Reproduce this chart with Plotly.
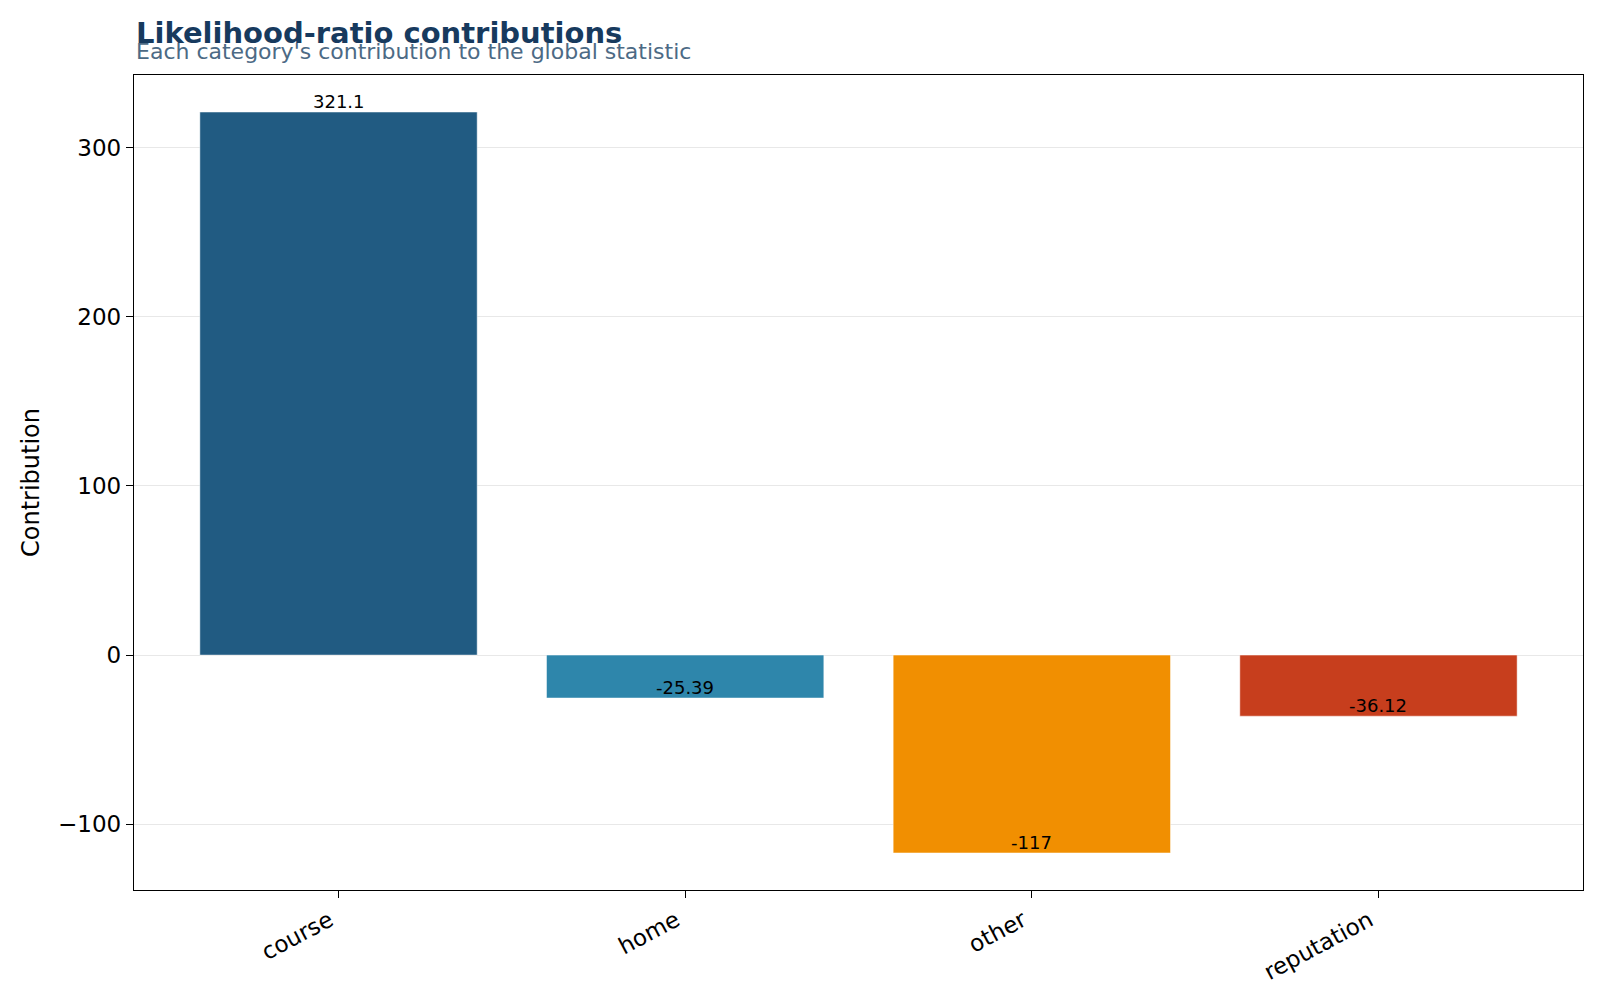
import plotly.graph_objects as go

categories = ["course", "home", "other", "reputation"]
contributions = [321.1, -25.39, -117.0, -36.12]
value_labels = ["321.1", "-25.39", "-117", "-36.12"]
bar_colors = ["#215B82", "#2E86AB", "#F18F01", "#C73E1D"]

title_text = "Likelihood-ratio contributions"
subtitle_text = "Each category's contribution to the global statistic"
y_title = "Contribution"

font_family = "DejaVu Sans"

fig = go.Figure()
fig.add_trace(go.Bar(
    x=categories,
    y=contributions,
    width=0.8,
    marker=dict(color=bar_colors, line=dict(color="rgba(255,255,255,0.6)", width=0.8)),
    hoverinfo="x+y",
))

for cat, val, lab in zip(categories, contributions, value_labels):
    fig.add_annotation(
        x=cat, y=val, text=lab, showarrow=False,
        xanchor="center", yanchor="bottom", yshift=-2,
        font=dict(family=font_family, size=18, color="#000000"),
    )

fig.add_annotation(
    xref="paper", yref="paper", x=0, y=1, xanchor="left", yanchor="bottom",
    yshift=23, text="<b>" + title_text + "</b>", showarrow=False,
    font=dict(family=font_family, size=29, color="#173A5E"),
)
fig.add_annotation(
    xref="paper", yref="paper", x=0, y=1, xanchor="left", yanchor="bottom",
    yshift=9, text=subtitle_text, showarrow=False,
    font=dict(family=font_family, size=22, color="#4C6A85"),
)

fig.update_layout(
    width=1600, height=1000,
    margin=dict(l=134, r=17, t=75, b=110),
    paper_bgcolor="white", plot_bgcolor="white",
    showlegend=False,
    font=dict(family=font_family, size=22, color="#000000"),
    bargap=0.2,
)
fig.update_xaxes(
    range=[-0.59, 3.59],
    showline=True, linecolor="black", linewidth=1.3, mirror=True,
    ticks="outside", ticklen=7, tickwidth=1.2, tickcolor="black",
    tickangle=-28, showgrid=False, ticklabelshift=-9,
    tickfont=dict(family=font_family, size=23, color="#000000"),
)
fig.update_yaxes(
    range=[-138.9, 343.0],
    dtick=100, tick0=0,
    showline=True, linecolor="black", linewidth=1.3, mirror=True,
    ticks="outside", ticklen=7, tickwidth=1.2, tickcolor="black",
    showgrid=True, gridcolor="rgba(190,190,190,0.35)", gridwidth=1,
    zeroline=False,
    layer="above traces",
    title=dict(text=y_title, standoff=11, font=dict(family=font_family, size=24, color="#000000")),
    tickfont=dict(family=font_family, size=23, color="#000000"),
)

fig.write_html("out.html")
